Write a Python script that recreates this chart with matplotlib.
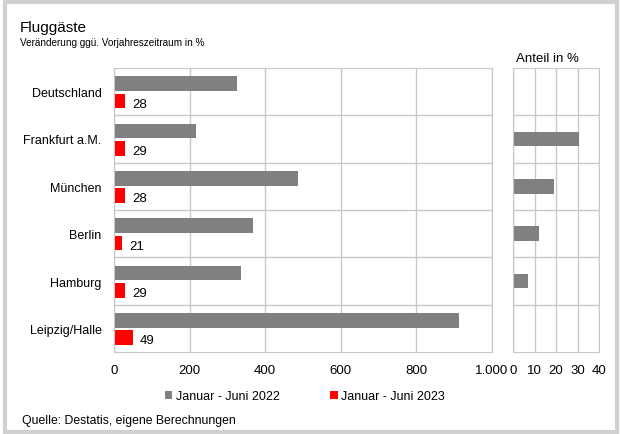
import numpy as np
import matplotlib.pyplot as plt
from matplotlib.patches import Rectangle

plt.rcParams['font.family'] = ['Liberation Sans', 'DejaVu Sans']

# data
orte = ['Deutschland', 'Frankfurt a.M.', 'München', 'Berlin', 'Hamburg', 'Leipzig/Halle']
werte_2022 = [325, 217, 487, 368, 336, 913]
werte_2023 = [28, 29, 28, 21, 29, 49]
anteil = [0, 30.5, 19, 12, 7, 0.5]
x_ticks = [0, 200, 400, 600, 800, 1000]
x_labels = ['0', '200', '400', '600', '800', '1.000']
anteil_ticks = [0, 10, 20, 30, 40]

grau = '#808080'
rot = '#ff0000'
gitter = '#c8c8c8'
fs = 9

fig = plt.figure(figsize=(6.21, 4.35), dpi=100)
W, H = 621, 435

def box(x0, y0, x1, y1):
    return [x0 / W, 1 - y1 / H, (x1 - x0) / W, (y1 - y0) / H]

ax = fig.add_axes(box(114, 69, 492, 353))
ax2 = fig.add_axes(box(513, 69, 599, 353))

pos = np.arange(len(orte))
h = 0.31

ax.barh(pos - 0.17, werte_2022, height=h, color=grau, label='Januar - Juni 2022')
ax.barh(pos + 0.2, werte_2023, height=h, color=rot, label='Januar - Juni 2023')
for p, v in zip(pos, werte_2023):
    ax.text(v + 20, p + 0.25, str(v), va='center', ha='left', fontsize=fs + 0.5)

ax.set_xlim(0, 1000)
ax.set_ylim(len(orte) - 0.5, -0.5)
ax.set_xticks(x_ticks)
ax.set_xticklabels(x_labels)
ax.set_yticks(pos)
ax.set_yticklabels(orte)

ax2.barh(pos, anteil, height=h, color=grau)
ax2.set_xlim(0, 40)
ax2.set_ylim(len(orte) - 0.5, -0.5)
ax2.set_xticks(anteil_ticks)
ax2.set_yticks([])
ax2.set_title('Anteil in %', fontsize=fs + 0.5, pad=5, x=0.4)

for a in (ax, ax2):
    a.set_axisbelow(True)
    a.grid(axis='x', color=gitter, linewidth=1)
    for b in np.arange(0.5, len(orte) - 0.5, 1):
        a.axhline(b, color=gitter, linewidth=1, zorder=0)
    for s in a.spines.values():
        s.set_color(gitter)
    a.tick_params(length=0, labelsize=fs + 0.5, pad=9)
ax.tick_params(axis='y', pad=9, labelsize=fs)

fig.text(20 / W, 1 - 28 / H, 'Fluggäste', fontsize=11, va='center', ha='left')
fig.text(20 / W, 1 - 43 / H, 'Veränderung ggü. Vorjahreszeitraum in %', fontsize=7.2,
         va='center', ha='left')
fig.text(22 / W, 1 - 421 / H, 'Quelle: Destatis, eigene Berechnungen', fontsize=8.8,
         va='center', ha='left')

fig.legend(loc='center', bbox_to_anchor=(305 / W, 1 - 397 / H), ncol=2, frameon=False,
           fontsize=fs, handlelength=0.6, handleheight=0.6, handletextpad=0.3,
           columnspacing=4.0)

fig.add_artist(Rectangle((0.008, 0.005), 0.985, 0.988, transform=fig.transFigure,
                         fill=False, edgecolor='#d0d0d0', linewidth=3))

fig.savefig('out.png', dpi=100)
